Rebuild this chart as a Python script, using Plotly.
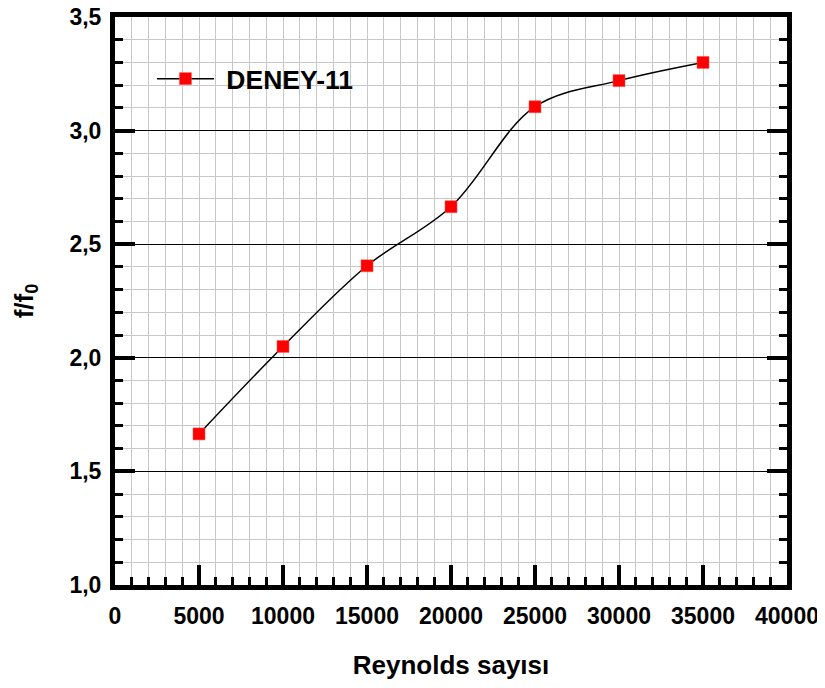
import plotly.graph_objects as go

reynolds = [5000, 10000, 15000, 20000, 25000, 30000, 35000]
f_ratio = [1.665, 2.05, 2.405, 2.665, 3.105, 3.22, 3.30]
series_name = "\u00a0DENEY-11"

x_tickvals = [0, 5000, 10000, 15000, 20000, 25000, 30000, 35000, 40000]
x_ticktext = ["0", "5000", "10000", "15000", "20000", "25000", "30000", "35000", "40000"]
y_tickvals = [1.0, 1.5, 2.0, 2.5, 3.0, 3.5]
y_ticktext = ["1,0", "1,5", "2,0", "2,5", "3,0", "3,5"]

FONT = "Liberation Sans, Arial, sans-serif"

fig = go.Figure()
fig.add_trace(go.Scatter(
    x=reynolds, y=f_ratio, name=series_name,
    mode="lines+markers",
    line=dict(color="black", width=1.5, shape="spline", smoothing=1),
    marker=dict(symbol="square", color="#ff0000", size=12,
                line=dict(color="#ff5050", width=0.5)),
))

grid_gray = "#c8c8c8"

fig.update_layout(
    width=825, height=688,
    margin=dict(l=107, r=46, t=9, b=111),
    paper_bgcolor="white", plot_bgcolor="white",
    font=dict(family=FONT, color="black", size=23, weight="bold"),
    showlegend=True,
    legend=dict(x=0.055, y=0.891, xanchor="left", yanchor="middle",
                bgcolor="rgba(0,0,0,0)", font=dict(size=26.5, weight="bold"),
                itemwidth=57),
    xaxis=dict(
        range=[0, 40000], tickvals=x_tickvals, ticktext=x_ticktext,
        automargin=False, ticklabeloverflow="allow",
        showline=True, linecolor="black", linewidth=5, mirror=True,
        ticks="inside", ticklen=20, tickwidth=4, tickcolor="black",
        showgrid=True, gridcolor=grid_gray, gridwidth=1,
        zeroline=False, ticklabelstandoff=6,
        tickfont=dict(size=23, weight="bold"),
        minor=dict(dtick=1000, ticks="inside", ticklen=8, tickwidth=3,
                   tickcolor="black", showgrid=True, gridcolor=grid_gray, gridwidth=1),
        title=dict(text="Reynolds sayısı", font=dict(size=26, weight="bold"), standoff=30),
    ),
    yaxis=dict(
        range=[1.0, 3.5], tickvals=y_tickvals, ticktext=y_ticktext,
        automargin=False, ticklabeloverflow="allow",
        showline=True, linecolor="black", linewidth=5, mirror="allticks",
        ticks="inside", ticklen=20, tickwidth=4, tickcolor="black",
        showgrid=True, gridcolor="black", gridwidth=1.2,
        zeroline=False, ticklabelstandoff=4,
        tickfont=dict(size=23, weight="bold"),
        minor=dict(dtick=0.1, ticks="inside", ticklen=8, tickwidth=3,
                   tickcolor="black", showgrid=True, gridcolor=grid_gray, gridwidth=1),
        title=dict(text="f/f<sub>0</sub>", font=dict(size=26, weight="bold"), standoff=30),
    ),
)

fig.write_html("out.html")
